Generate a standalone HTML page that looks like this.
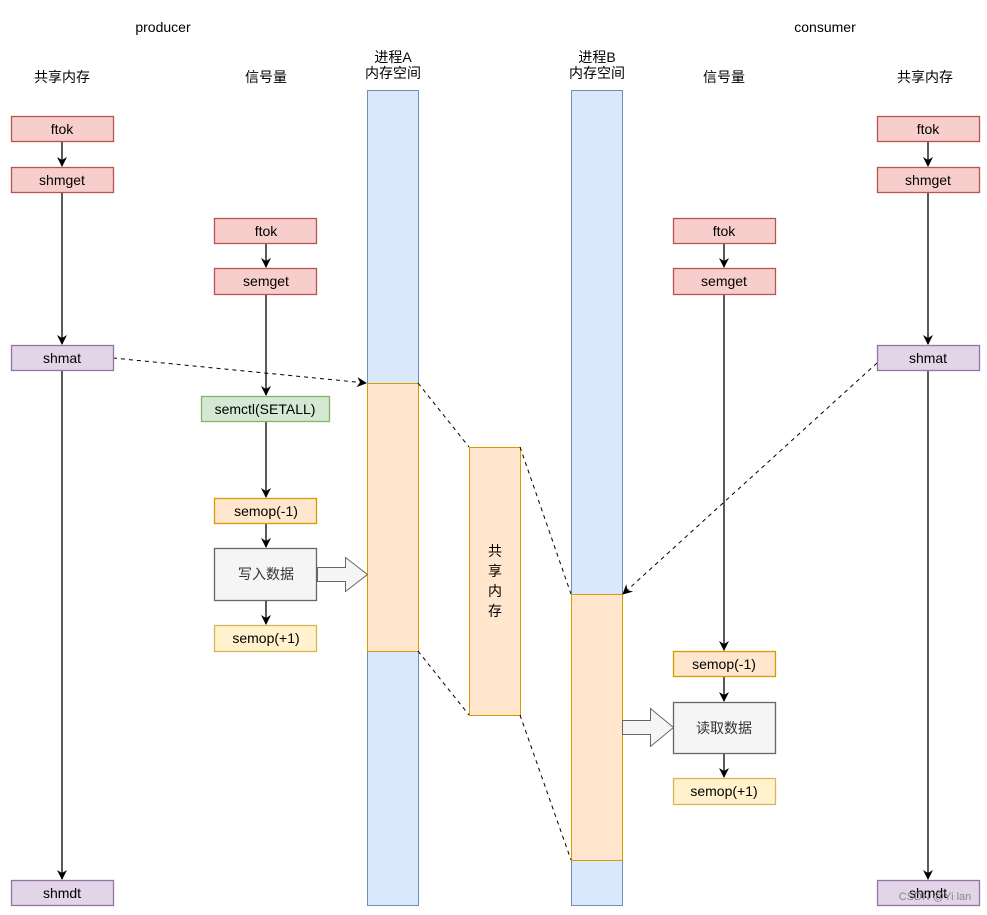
<!DOCTYPE html>
<html><head><meta charset="utf-8"><style>
body{margin:0;background:#fff;}
svg text{font-family:"Liberation Sans","Noto Sans CJK SC",sans-serif;font-size:14px;fill:#000;}
</style></head><body>
<svg width="987" height="910" xmlns="http://www.w3.org/2000/svg">
<defs>
<marker id="a" markerWidth="10" markerHeight="10" refX="9" refY="5" orient="auto" markerUnits="userSpaceOnUse"><path d="M0,0 L10,5 L0,10 L3,5 Z" fill="#000"/></marker>
</defs>
<rect width="987" height="910" fill="#fff"/>
<g text-anchor="middle">
<text x="163" y="32">producer</text>
<text x="825" y="32">consumer</text>
<text x="62" y="82">共享内存</text>
<text x="266" y="82">信号量</text>
<text x="393" y="62">进程A</text><text x="393" y="78">内存空间</text>
<text x="597" y="62">进程B</text><text x="597" y="78">内存空间</text>
<text x="724" y="82">信号量</text>
<text x="925" y="82">共享内存</text>
</g>
<!-- bars -->
<rect x="367.5" y="90.5" width="51" height="815" fill="#dae8fc" stroke="#6c8ebf"/>
<rect x="367.5" y="383.5" width="51" height="268" fill="#ffe6cc" stroke="#d79b00"/>
<rect x="571.5" y="90.5" width="51" height="815" fill="#dae8fc" stroke="#6c8ebf"/>
<rect x="571.5" y="594.5" width="51" height="266" fill="#ffe6cc" stroke="#d79b00"/>
<rect x="469.5" y="447.5" width="51" height="268" fill="#ffe6cc" stroke="#d79b00"/>
<g text-anchor="middle"><text x="495" y="556">共</text><text x="495" y="576">享</text><text x="495" y="596">内</text><text x="495" y="616">存</text></g>
<!-- dashed -->
<g stroke="#000" stroke-dasharray="4 4" fill="none">
<line x1="113" y1="358" x2="366" y2="383" marker-end="url(#a)"/>
<line x1="877" y1="363" x2="623" y2="594" marker-end="url(#a)"/>
<line x1="418" y1="383" x2="469" y2="447"/>
<line x1="418" y1="651" x2="469" y2="715"/>
<line x1="520" y1="447" x2="571" y2="594"/>
<line x1="520" y1="715" x2="571" y2="860"/>
</g>
<!-- solid arrows -->
<g stroke="#000" stroke-width="1.3" fill="none">
<line x1="62" y1="141" x2="62" y2="166" marker-end="url(#a)"/>
<line x1="62" y1="192" x2="62" y2="344" marker-end="url(#a)"/>
<line x1="62" y1="370" x2="62" y2="879" marker-end="url(#a)"/>
<line x1="928" y1="141" x2="928" y2="166" marker-end="url(#a)"/>
<line x1="928" y1="192" x2="928" y2="344" marker-end="url(#a)"/>
<line x1="928" y1="370" x2="928" y2="879" marker-end="url(#a)"/>
<line x1="266" y1="243" x2="266" y2="267" marker-end="url(#a)"/>
<line x1="266" y1="294" x2="266" y2="395" marker-end="url(#a)"/>
<line x1="266" y1="421" x2="266" y2="497" marker-end="url(#a)"/>
<line x1="266" y1="523" x2="266" y2="547" marker-end="url(#a)"/>
<line x1="266" y1="600" x2="266" y2="624" marker-end="url(#a)"/>
<line x1="724" y1="243" x2="724" y2="267" marker-end="url(#a)"/>
<line x1="724" y1="294" x2="724" y2="650" marker-end="url(#a)"/>
<line x1="724" y1="676" x2="724" y2="701" marker-end="url(#a)"/>
<line x1="724" y1="753" x2="724" y2="777" marker-end="url(#a)"/>
</g>
<!-- block arrows -->
<path d="M317.5,567.5 H345.5 V557.5 L367.5,574.5 L345.5,591.5 V581.5 H317.5 Z" fill="#f5f5f5" stroke="#666"/>
<path d="M622.5,720.5 H650.5 V708.5 L673.5,727.5 L650.5,746.5 V734.5 H622.5 Z" fill="#f5f5f5" stroke="#666"/>
<!-- boxes -->
<g stroke-width="1.3">
<rect x="11.5" y="116.5" width="102" height="25" fill="#f8cecc" stroke="#b85450"/>
<rect x="11.5" y="167.5" width="102" height="25" fill="#f8cecc" stroke="#b85450"/>
<rect x="11.5" y="345.5" width="102" height="25" fill="#e1d5e7" stroke="#9673a6"/>
<rect x="11.5" y="880.5" width="102" height="25" fill="#e1d5e7" stroke="#9673a6"/>
<rect x="877.5" y="116.5" width="102" height="25" fill="#f8cecc" stroke="#b85450"/>
<rect x="877.5" y="167.5" width="102" height="25" fill="#f8cecc" stroke="#b85450"/>
<rect x="877.5" y="345.5" width="102" height="25" fill="#e1d5e7" stroke="#9673a6"/>
<rect x="877.5" y="880.5" width="102" height="25" fill="#e1d5e7" stroke="#9673a6"/>
<rect x="214.5" y="218.5" width="102" height="25" fill="#f8cecc" stroke="#b85450"/>
<rect x="214.5" y="268.5" width="102" height="26" fill="#f8cecc" stroke="#b85450"/>
<rect x="201.5" y="396.5" width="128" height="25" fill="#d5e8d4" stroke="#82b366"/>
<rect x="214.5" y="498.5" width="102" height="25" fill="#ffe6cc" stroke="#d79b00"/>
<rect x="214.5" y="548.5" width="102" height="52" fill="#f5f5f5" stroke="#666"/>
<rect x="214.5" y="625.5" width="102" height="26" fill="#fff2cc" stroke="#d6b656"/>
<rect x="673.5" y="218.5" width="102" height="25" fill="#f8cecc" stroke="#b85450"/>
<rect x="673.5" y="268.5" width="102" height="26" fill="#f8cecc" stroke="#b85450"/>
<rect x="673.5" y="651.5" width="102" height="25" fill="#ffe6cc" stroke="#d79b00"/>
<rect x="673.5" y="702.5" width="102" height="51" fill="#f5f5f5" stroke="#666"/>
<rect x="673.5" y="778.5" width="102" height="26" fill="#fff2cc" stroke="#d6b656"/>
</g>
<g text-anchor="middle">
<text x="62" y="134">ftok</text><text x="62" y="185">shmget</text><text x="62" y="363">shmat</text><text x="62" y="898">shmdt</text>
<text x="928" y="134">ftok</text><text x="928" y="185">shmget</text><text x="928" y="363">shmat</text><text x="928" y="898">shmdt</text>
<text x="266" y="236">ftok</text><text x="266" y="286">semget</text><text x="265" y="414">semctl(SETALL)</text>
<text x="266" y="516">semop(-1)</text><text x="266" y="579" style="fill:#333">写入数据</text><text x="266" y="643">semop(+1)</text>
<text x="724" y="236">ftok</text><text x="724" y="286">semget</text><text x="724" y="669">semop(-1)</text>
<text x="724" y="733" style="fill:#333">读取数据</text><text x="724" y="796">semop(+1)</text>
</g>
<text x="935" y="900" style="font-size:11px;fill:#888" text-anchor="middle">CSDN @Yi lan</text>
</svg>
</body></html>
